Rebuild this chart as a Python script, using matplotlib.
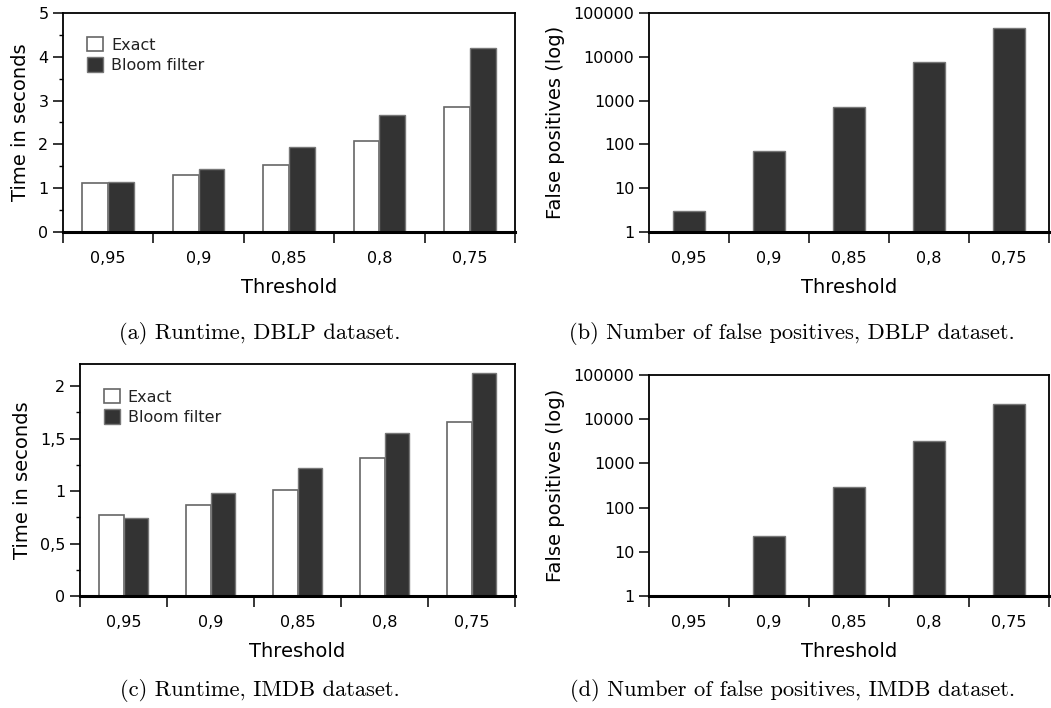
import numpy as np
import matplotlib
matplotlib.use("Agg")
from matplotlib import pyplot as plt
from matplotlib.ticker import MultipleLocator, FixedLocator, FuncFormatter

thresholds = ["0,95", "0,9", "0,85", "0,8", "0,75"]

# runtime in seconds
dblp_exact = [1.11, 1.29, 1.53, 2.07, 2.86]
dblp_bloom = [1.15, 1.43, 1.94, 2.68, 4.20]
imdb_exact = [0.77, 0.87, 1.01, 1.31, 1.66]
imdb_bloom = [0.74, 0.98, 1.22, 1.55, 2.12]

# false positives
dblp_fp = [3, 71, 725, 7500, 44700]
imdb_fp = [0, 23, 290, 3250, 22000]

captions = ["(a) Runtime, DBLP dataset.",
            "(b) Number of false positives, DBLP dataset.",
            "(c) Runtime, IMDB dataset.",
            "(d) Number of false positives, IMDB dataset."]

plt.rcParams["font.family"] = "DejaVu Sans"
plt.rcParams["text.color"] = "#222222"

W, H = 1051, 708
fig = plt.figure(figsize=(W / 100, H / 100), dpi=100)


def px_axes(left, top, right, bottom):
    return fig.add_axes([left / W, 1 - bottom / H, (right - left) / W, (bottom - top) / H])


comma = FuncFormatter(lambda v, p: f"{v:g}".replace(".", ","))
x = np.arange(len(thresholds))


def style(ax, ylabel):
    for s in ["left", "top", "right"]:
        ax.spines[s].set_linewidth(1.3)
    ax.spines["bottom"].set_linewidth(2.2)
    ax.set_xlim(-0.5, len(thresholds) - 0.5)
    ax.xaxis.set_major_locator(FixedLocator(np.arange(-0.5, len(thresholds), 1.0)))
    ax.xaxis.set_minor_locator(FixedLocator(x))
    ax.set_xticklabels([], minor=False)
    ax.set_xticklabels(thresholds, minor=True)
    ax.tick_params(axis="x", which="major", direction="out", length=8, width=1.1)
    ax.tick_params(axis="x", which="minor", length=0, labelsize=11.5, pad=14)
    ax.tick_params(axis="y", which="major", direction="out", length=7, width=1.1, labelsize=11.5)
    ax.tick_params(axis="y", which="minor", direction="out", length=3, width=1.0)
    ax.set_xlabel("Threshold", fontsize=14, labelpad=8)
    ax.set_ylabel(ylabel, fontsize=14, labelpad=6)


def runtime(ax, exact, bloom, ymax, step, minor):
    w = 0.285
    ax.bar(x - w / 2, exact, w, color="white", edgecolor="#666666", linewidth=1.2, label="Exact")
    ax.bar(x + w / 2, bloom, w, color="#333333", edgecolor="#777777", linewidth=1.0, label="Bloom filter")
    ax.set_ylim(0, ymax)
    ax.yaxis.set_major_locator(MultipleLocator(step))
    ax.yaxis.set_minor_locator(MultipleLocator(minor))
    ax.yaxis.set_major_formatter(comma)
    style(ax, "Time in seconds")
    ax.legend(loc="upper left", bbox_to_anchor=(0.04, 0.92), frameon=False, fontsize=11.5,
              handlelength=1.0, handleheight=1.0, handletextpad=0.5, labelspacing=0.3,
              borderaxespad=0)


def falsepos(ax, fp):
    fp = np.array(fp, dtype=float)
    ax.set_yscale("log")
    mask = fp > 0
    ax.bar(x[mask], fp[mask] - 1, 0.4, bottom=1, color="#333333", edgecolor="#777777", linewidth=1.0)
    ax.set_ylim(1, 100000)
    ticks = [1, 10, 100, 1000, 10000, 100000]
    ax.yaxis.set_major_locator(FixedLocator(ticks))
    ax.yaxis.set_minor_locator(FixedLocator([]))
    ax.yaxis.set_major_formatter(FuncFormatter(lambda v, p: f"{int(round(v))}"))
    style(ax, "False positives (log)")


ax_a = px_axes(63, 13, 515, 232)
runtime(ax_a, dblp_exact, dblp_bloom, 5, 1, 0.5)

ax_b = px_axes(649, 13, 1049, 232)
falsepos(ax_b, dblp_fp)

ax_c = px_axes(80, 364, 515, 596)
runtime(ax_c, imdb_exact, imdb_bloom, 2.21, 0.5, 0.25)

ax_d = px_axes(649, 375, 1049, 596)
falsepos(ax_d, imdb_fp)

cap_pos = [(260, 333), (792, 333), (260, 690), (793, 690)]
for (cx, cy), txt in zip(cap_pos, captions):
    fig.text(cx / W, 1 - cy / H, txt, ha="center", va="center", fontsize=16.2,
             family=["cmr10", "DejaVu Serif"], color="black")

fig.savefig("out.png", dpi=100)
plt.close()
